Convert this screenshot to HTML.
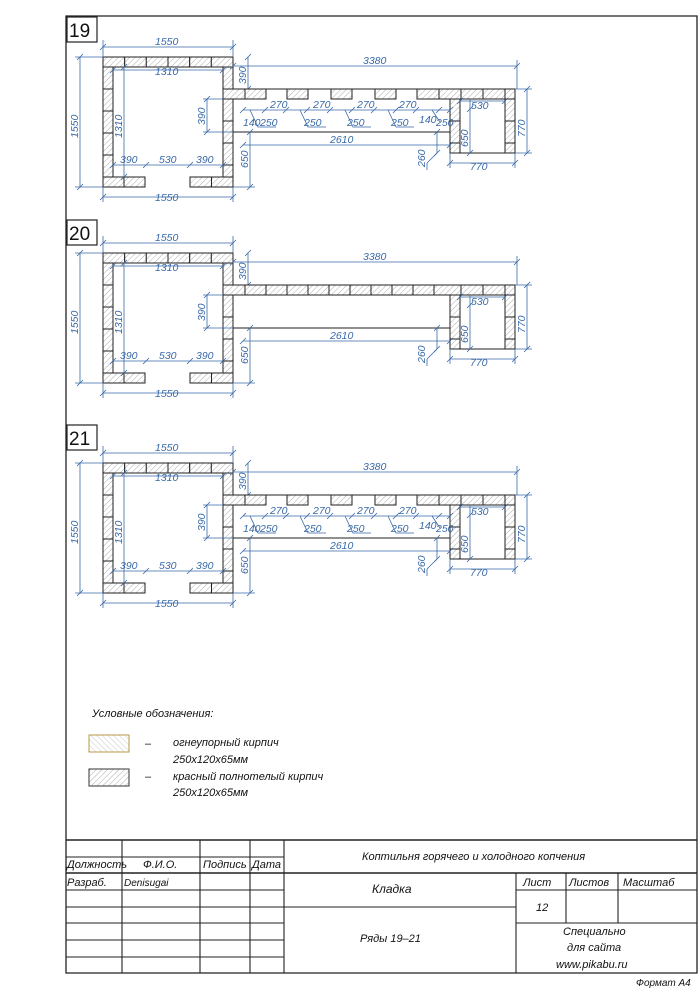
<!DOCTYPE html>
<html><head><meta charset="utf-8"><style>
html,body{margin:0;padding:0;background:#fff}
svg{display:block}
.d{stroke:#3a6aa8;stroke-width:0.8;fill:none}
.t{fill:#3a6aa8;font-family:"Liberation Sans",sans-serif;font-style:italic;font-size:10.5px}
.k{fill:#111;font-family:"Liberation Sans","Noto Sans CJK JP",sans-serif;font-style:italic;font-size:11px}
.b{fill:url(#h);stroke:#222;stroke-width:1}
.l{stroke:#222;stroke-width:1;fill:none}
</style></head><body>
<svg width="700" height="990" viewBox="0 0 700 990" xmlns="http://www.w3.org/2000/svg">
<defs>
<pattern id="h" width="4" height="4" patternUnits="userSpaceOnUse" patternTransform="rotate(45)">
<rect width="4" height="4" fill="#fff"/><line x1="0" y1="0" x2="0" y2="4" stroke="#999" stroke-width="0.8"/></pattern>
<pattern id="h2" width="4" height="4" patternUnits="userSpaceOnUse" patternTransform="rotate(-45)">
<rect width="4" height="4" fill="#fff"/><line x1="0" y1="0" x2="0" y2="4" stroke="#bbb" stroke-width="0.8"/></pattern>
<g id="base">
<rect class="b" x="103" y="57" width="21.7" height="10"/><rect class="b" x="124.7" y="57" width="21.7" height="10"/><rect class="b" x="146.3" y="57" width="21.7" height="10"/><rect class="b" x="168" y="57" width="21.7" height="10"/><rect class="b" x="189.7" y="57" width="21.7" height="10"/><rect class="b" x="211.3" y="57" width="21.7" height="10"/>
<rect class="b" x="103" y="67" width="10" height="22"/><rect class="b" x="103" y="89" width="10" height="22"/><rect class="b" x="103" y="111" width="10" height="22"/><rect class="b" x="103" y="133" width="10" height="22"/><rect class="b" x="103" y="155" width="10" height="22"/>
<rect class="b" x="223" y="67" width="10" height="22"/><rect class="b" x="223" y="99" width="10" height="22"/><rect class="b" x="223" y="121" width="10" height="22"/><rect class="b" x="223" y="143" width="10" height="22"/><rect class="b" x="223" y="165" width="10" height="12"/>
<rect class="b" x="103" y="177" width="21" height="10"/><rect class="b" x="124" y="177" width="21" height="10"/><rect class="b" x="190" y="177" width="21.5" height="10"/><rect class="b" x="211.5" y="177" width="21.5" height="10"/>
<line class="l" x1="233" y1="132" x2="450" y2="132" stroke-width="0.7"/>
<line class="l" x1="243" y1="89" x2="450" y2="89" stroke-width="0.5"/>
<rect class="b" x="450" y="99" width="10" height="22"/><rect class="b" x="450" y="121" width="10" height="22"/><rect class="b" x="450" y="143" width="10" height="10"/>
<rect class="b" x="505" y="99" width="10" height="22"/><rect class="b" x="505" y="121" width="10" height="22"/><rect class="b" x="505" y="143" width="10" height="10"/>
<line class="l" x1="450" y1="153" x2="515" y2="153"/>
<rect class="b" x="223" y="89" width="22" height="10"/>
<rect class="b" x="461" y="89" width="22" height="10"/><rect class="b" x="483" y="89" width="22" height="10"/><rect class="b" x="505" y="89" width="10" height="10"/>
<!-- dims -->
<g class="d">
<line x1="103" y1="47" x2="233" y2="47"/><line x1="103" y1="197" x2="233" y2="197"/>
<line x1="103" y1="40" x2="103" y2="57"/><line x1="233" y1="40" x2="233" y2="57"/>
<line x1="103" y1="187" x2="103" y2="202"/><line x1="233" y1="187" x2="233" y2="202"/>
<line x1="80" y1="57" x2="80" y2="187"/><line x1="75" y1="57" x2="103" y2="57"/><line x1="75" y1="187" x2="103" y2="187"/>
<line x1="113" y1="70" x2="223" y2="70"/><line x1="124" y1="67" x2="124" y2="177"/>
<line x1="113" y1="165" x2="223" y2="165"/>
<line x1="248" y1="57" x2="248" y2="89"/><line x1="233" y1="66" x2="517" y2="66"/><line x1="517" y1="60" x2="517" y2="89"/>
<line x1="207" y1="99" x2="207" y2="132"/><line x1="203" y1="99" x2="223" y2="99"/><line x1="203" y1="132" x2="233" y2="132"/>
<line x1="250" y1="132" x2="250" y2="187"/><line x1="233" y1="187" x2="255" y2="187"/>
<line x1="243" y1="145" x2="450" y2="145"/>
<line x1="437" y1="132" x2="437" y2="153"/><line x1="437" y1="153" x2="427" y2="163"/><line x1="427" y1="163" x2="427" y2="170"/>
<line x1="460" y1="101" x2="505" y2="101"/><line x1="470" y1="99" x2="470" y2="153"/>
<line x1="527" y1="89" x2="527" y2="153"/><line x1="515" y1="89" x2="532" y2="89"/><line x1="515" y1="153" x2="532" y2="153"/>
<line x1="450" y1="163" x2="515" y2="163"/><line x1="450" y1="153" x2="450" y2="168"/><line x1="515" y1="153" x2="515" y2="168"/>
</g>
<g class="d" stroke-width="1.2">
<path d="M100 50l6-6M230 50l6-6M100 200l6-6M230 200l6-6M77 60l6-6M77 190l6-6M110 73l6-6M220 73l6-6M121 70l6-6M121 180l6-6M110 168l6-6M143 168l6-6M187 168l6-6M220 168l6-6M245 60l6-6M245 92l6-6M230 69l6-6M514 69l6-6M204 102l6-6M204 135l6-6M247 135l6-6M247 190l6-6M240 148l6-6M447 148l6-6M434 135l6-6M434 156l6-6M457 104l6-6M502 104l6-6M467 112l6-6M467 156l6-6M524 92l6-6M524 156l6-6M447 166l6-6M512 166l6-6"/>
</g>
<text class="t" x="155" y="45">1550</text><text class="t" x="155" y="201">1550</text>
<text class="t" x="155" y="75">1310</text>
<text class="t" transform="translate(78,138) rotate(-90)">1550</text>
<text class="t" transform="translate(122,138) rotate(-90)">1310</text>
<text class="t" x="120" y="163">390</text><text class="t" x="159" y="163">530</text><text class="t" x="196" y="163">390</text>
<text class="t" transform="translate(246,84) rotate(-90)">390</text>
<text class="t" transform="translate(205,125) rotate(-90)">390</text>
<text class="t" transform="translate(248,168) rotate(-90)">650</text>
<text class="t" x="363" y="64">3380</text>
<text class="t" x="330" y="143">2610</text>
<text class="t" transform="translate(425,167) rotate(-90)">260</text>
<text class="t" x="471" y="109">530</text>
<text class="t" transform="translate(468,147) rotate(-90)">650</text>
<text class="t" transform="translate(525,137) rotate(-90)">770</text>
<text class="t" x="470" y="170">770</text>
</g>
<g id="gap">
<rect class="b" x="245" y="89" width="21" height="10"/><rect class="b" x="287" y="89" width="21" height="10"/><rect class="b" x="331" y="89" width="21" height="10"/><rect class="b" x="375" y="89" width="21" height="10"/><rect class="b" x="417" y="89" width="22" height="10"/><rect class="b" x="439" y="89" width="22" height="10"/>
<g class="d"><line x1="243" y1="110" x2="450" y2="110"/>
<path d="M250 110l8 17h18M300 110l8 17h18M345 110l8 17h18M388 110l8 17h18M432 110l8 12"/></g>
<g class="d" stroke-width="1.2"><path d="M240 113l6-6M262 113l6-6M283 113l6-6M304 113l6-6M327 113l6-6M349 113l6-6M371 113l6-6M393 113l6-6M413 113l6-6M436 113l6-6M447 113l6-6"/></g>
<text class="t" x="270" y="108">270</text><text class="t" x="313" y="108">270</text><text class="t" x="357" y="108">270</text><text class="t" x="399" y="108">270</text>
<text class="t" x="243" y="126">140</text><text class="t" x="260" y="126">250</text><text class="t" x="304" y="126">250</text><text class="t" x="347" y="126">250</text><text class="t" x="391" y="126">250</text>
<text class="t" x="419" y="123">140</text><text class="t" x="436" y="126">250</text>
</g>
</defs>
<rect x="0" y="0" width="700" height="990" fill="#fff"/>
<!-- frame -->
<path d="M66 16H697V973H66Z" fill="none" stroke="#222" stroke-width="1.3"/>
<g fill="none" stroke="#222" stroke-width="1.2"><rect x="67" y="17" width="30" height="25"/><rect x="67" y="220" width="30" height="25"/><rect x="67" y="425" width="30" height="25"/></g>
<g font-family="Liberation Sans,sans-serif" font-size="19" fill="#111"><text x="69" y="37">19</text><text x="69" y="240">20</text><text x="69" y="445">21</text></g>
<use href="#base"/><use href="#gap"/>
<g transform="translate(0,196)"><use href="#base"/>
<rect class="b" x="245" y="89" width="21" height="10"/><rect class="b" x="266" y="89" width="21" height="10"/><rect class="b" x="287" y="89" width="21" height="10"/><rect class="b" x="308" y="89" width="21" height="10"/><rect class="b" x="329" y="89" width="21" height="10"/><rect class="b" x="350" y="89" width="21" height="10"/><rect class="b" x="371" y="89" width="21" height="10"/><rect class="b" x="392" y="89" width="21" height="10"/><rect class="b" x="413" y="89" width="21" height="10"/><rect class="b" x="434" y="89" width="27" height="10"/>
</g>
<g transform="translate(0,406)"><use href="#base"/><use href="#gap"/></g>
<!-- legend -->
<text class="k" x="92" y="717" font-size="11">Условные обозначения:</text>
<rect x="89" y="735" width="40" height="17" fill="url(#h2)" stroke="#b89a4a" stroke-width="1"/>
<rect x="89" y="769" width="40" height="17" fill="url(#h)" stroke="#333" stroke-width="1"/>
<text class="k" x="145" y="747">–</text><text class="k" x="145" y="780">–</text>
<text class="k" x="173" y="746">огнеупорный кирпич</text><text class="k" x="173" y="763">250х120х65мм</text>
<text class="k" x="173" y="780">красный полнотелый кирпич</text><text class="k" x="173" y="796">250х120х65мм</text>
<!-- title block -->
<g stroke="#222" stroke-width="1.1" fill="none">
<line x1="66" y1="840" x2="697" y2="840" stroke-width="1.5"/>
<line x1="66" y1="857" x2="284" y2="857"/>
<line x1="66" y1="873" x2="697" y2="873" stroke-width="1.4"/>
<line x1="66" y1="890" x2="284" y2="890"/><line x1="516" y1="890" x2="697" y2="890"/>
<line x1="66" y1="907" x2="516" y2="907"/>
<line x1="66" y1="923" x2="284" y2="923"/><line x1="516" y1="923" x2="697" y2="923"/>
<line x1="66" y1="940" x2="284" y2="940"/><line x1="66" y1="957" x2="284" y2="957"/>
<line x1="122" y1="840" x2="122" y2="973"/><line x1="200" y1="840" x2="200" y2="973"/><line x1="250" y1="840" x2="250" y2="973"/><line x1="284" y1="840" x2="284" y2="973"/>
<line x1="516" y1="873" x2="516" y2="973"/><line x1="566" y1="873" x2="566" y2="923"/><line x1="618" y1="873" x2="618" y2="923"/>
</g>
<g class="k">
<text x="67" y="868">Должность</text><text x="143" y="868">Ф.И.О.</text><text x="203" y="868">Подпись</text><text x="252" y="868">Дата</text>
<text x="67" y="886">Разраб.</text><text x="124" y="886" font-size="10">Denisugai</text>
<text x="362" y="860">Коптильня горячего и холодного копчения</text>
<text x="372" y="893" font-size="12">Кладка</text>
<text x="360" y="942">Ряды 19–21</text>
<text x="523" y="886">Лист</text><text x="569" y="886">Листов</text><text x="623" y="886">Масштаб</text>
<text x="536" y="911">12</text>
<text x="563" y="935">Специально</text><text x="567" y="951">для сайта</text><text x="556" y="968">www.pikabu.ru</text>
<text x="636" y="986" font-size="10">Формат А4</text>
</g>
</svg>
</body></html>
